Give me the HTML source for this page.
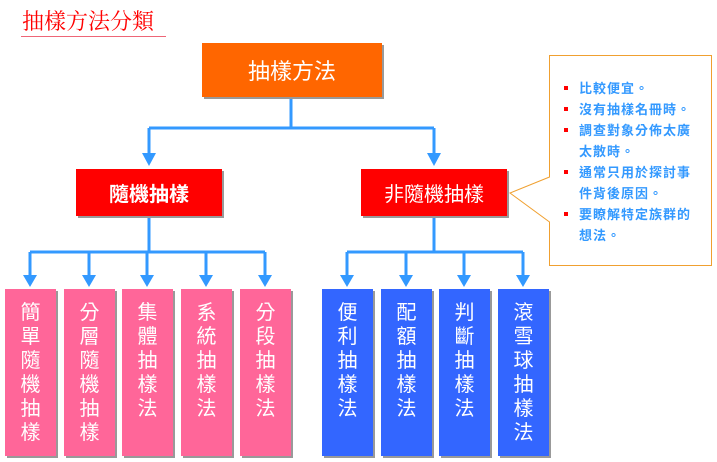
<!DOCTYPE html>
<html><head><meta charset="utf-8"><style>
body{margin:0;width:717px;height:462px;background:#fff;position:relative;overflow:hidden;font-family:"Liberation Serif","Noto Serif CJK SC","Noto Sans CJK TC",serif}
.a{position:absolute}
.b{position:absolute;color:#fff;box-shadow:2px 2px 0 #999;text-align:center}
.v{width:51px;height:167px;font-size:20px;line-height:24px;padding-top:10px;box-sizing:border-box;font-family:"Noto Sans CJK TC",sans-serif}
.p{background:#FF6699}.q{background:#3366FF}
ul{margin:0;padding:0;list-style:none}
li{position:relative;padding-left:30px;color:#3399FF;font-weight:bold;font-size:13px;letter-spacing:1px;line-height:21px;font-family:"Noto Sans CJK TC",sans-serif}
li:before{content:"";position:absolute;left:15px;top:9px;width:4px;height:4px;background:#f00}
</style></head><body>
<div class="a" style="left:22px;top:5px;font-size:22px;color:#f00;font-family:'Noto Serif CJK SC',serif">抽樣方法分類</div>
<div class="a" style="left:21px;top:36px;width:145px;height:1px;background:#e67"></div>
<div class="b" style="left:202px;top:43px;width:180px;height:54px;background:#FF6600;font-size:22px;line-height:54px;font-family:'Noto Sans CJK TC',sans-serif">抽樣方法</div>
<svg class="a" style="left:0;top:0" width="717" height="462">
<g stroke="#3399FF" stroke-width="3" fill="none">
<path d="M291 99V128M149 128H434M149 128V158M434 128V158"/>
<path d="M149 216V252M30 252H265M30 252V280M89 252V280M147 252V280M206 252V280M265 252V280"/>
<path d="M434 216V252M347 252H523M347 252V280M406 252V280M464 252V280M523 252V280"/>
</g>
<g fill="#3399FF">
<path d="M142 153H156L149 166Z"/><path d="M427 153H441L434 166Z"/>
<path d="M23 275H37L30 287Z"/><path d="M82 275H96L89 287Z"/><path d="M140 275H154L147 287Z"/><path d="M199 275H213L206 287Z"/><path d="M258 275H272L265 287Z"/>
<path d="M340 275H354L347 287Z"/><path d="M399 275H413L406 287Z"/><path d="M457 275H471L464 287Z"/><path d="M516 275H530L523 287Z"/>
</g>
<path d="M549.5 55.5H711.5V265.5H549.5V222L510 193L549.5 177Z" fill="#fff" stroke="#F0A030" stroke-width="1"/>
</svg>
<div class="b" style="left:76px;top:169px;width:146px;height:47px;background:#f00;font-size:20px;line-height:47px;font-weight:bold;font-family:'Noto Sans CJK TC',sans-serif">隨機抽樣</div>
<div class="b" style="left:361px;top:169px;width:146px;height:47px;background:#f00;font-size:20px;line-height:47px;font-family:'Noto Sans CJK TC',sans-serif">非隨機抽樣</div>
<div class="b v p" style="left:5px;top:289px">簡<br>單<br>隨<br>機<br>抽<br>樣</div>
<div class="b v p" style="left:64px;top:289px">分<br>層<br>隨<br>機<br>抽<br>樣</div>
<div class="b v p" style="left:122px;top:289px">集<br>體<br>抽<br>樣<br>法</div>
<div class="b v p" style="left:181px;top:289px">系<br>統<br>抽<br>樣<br>法</div>
<div class="b v p" style="left:240px;top:289px">分<br>段<br>抽<br>樣<br>法</div>
<div class="b v q" style="left:322px;top:289px">便<br>利<br>抽<br>樣<br>法</div>
<div class="b v q" style="left:381px;top:289px">配<br>額<br>抽<br>樣<br>法</div>
<div class="b v q" style="left:439px;top:289px">判<br>斷<br>抽<br>樣<br>法</div>
<div class="b v q" style="left:498px;top:289px">滾<br>雪<br>球<br>抽<br>樣<br>法</div>
<ul class="a" style="left:549px;top:77px;width:145px">
<li>比較便宜。</li>
<li>沒有抽樣名冊時。</li>
<li>調查對象分佈太廣<br>太散時。</li>
<li>通常只用於探討事<br>件背後原因。</li>
<li>要瞭解特定族群的<br>想法。</li>
</ul>
</body></html>
